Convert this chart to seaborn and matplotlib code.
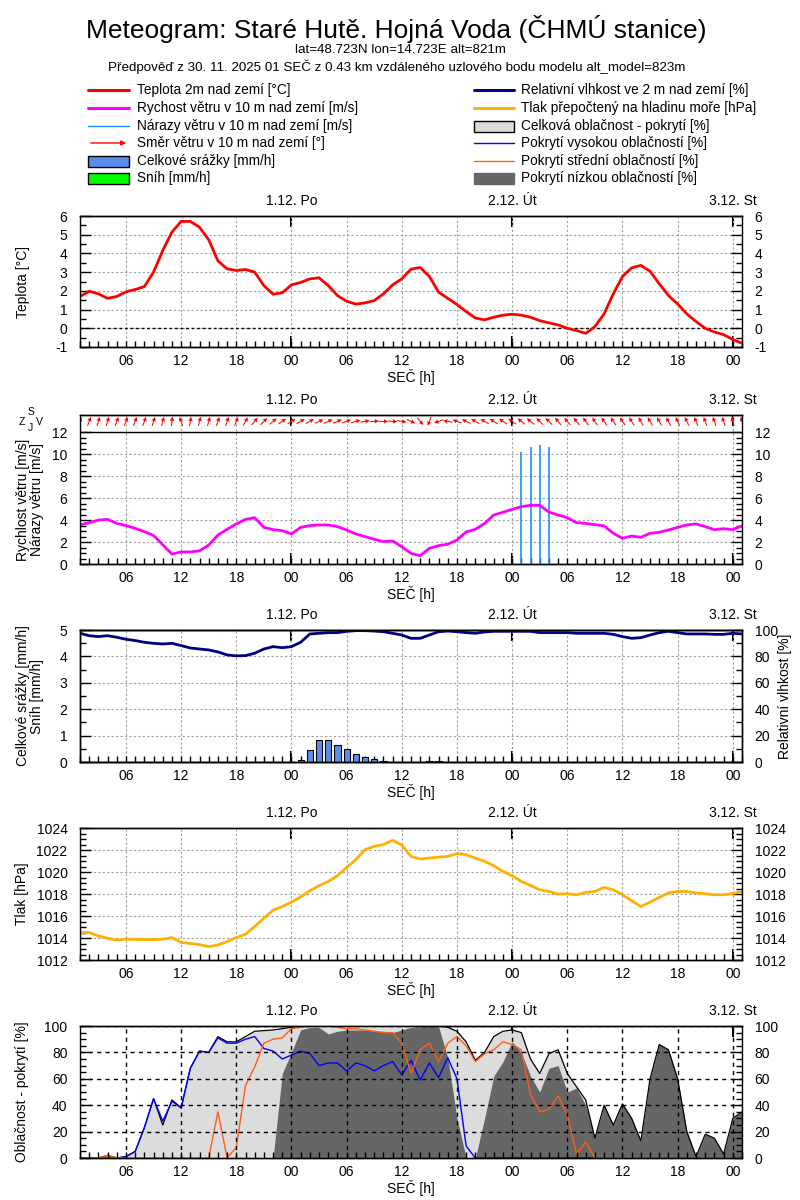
import numpy as np
import matplotlib
matplotlib.use("Agg")
import matplotlib.pyplot as plt
import matplotlib.ticker as mticker
from matplotlib.lines import Line2D
from matplotlib.patches import Rectangle, FancyArrowPatch
import seaborn as sns

# ---------------- data (hourly, h=0 is 30.11. 01:00 SEČ) ----------------
hours = list(range(73))

temperature = [1.7, 1.98, 1.84, 1.6, 1.7, 1.95, 2.07, 2.23, 3.0, 4.16,
               5.14, 5.71, 5.71, 5.4, 4.73, 3.6, 3.18, 3.09, 3.14, 3.0,
               2.28, 1.82, 1.9, 2.32, 2.45, 2.64, 2.7, 2.28, 1.75, 1.45,
               1.29, 1.36, 1.48, 1.84, 2.32, 2.64, 3.16, 3.25, 2.77, 1.93,
               1.6, 1.27, 0.89, 0.55, 0.45, 0.59, 0.7, 0.75, 0.7, 0.59,
               0.41, 0.29, 0.18, 0.0, -0.12, -0.27, 0.09, 0.77, 1.84, 2.77,
               3.23, 3.36, 3.05, 2.38, 1.75, 1.3, 0.77, 0.36, 0.0, -0.2,
               -0.34, -0.6, -0.8]

wind_speed = [3.56, 3.77, 4.0, 4.07, 3.7, 3.5, 3.25, 2.95, 2.6, 1.75,
              0.91, 1.1, 1.1, 1.2, 1.73, 2.64, 3.16, 3.65, 4.07, 4.22,
              3.34, 3.13, 3.04, 2.74, 3.34, 3.5, 3.56, 3.56, 3.4, 3.1,
              2.74, 2.5, 2.25, 2.04, 2.1, 1.58, 0.97, 0.76, 1.43, 1.67,
              1.8, 2.19, 2.92, 3.16, 3.7, 4.47, 4.71, 4.98, 5.23, 5.35,
              5.35, 4.74, 4.47, 4.22, 3.77, 3.7, 3.59, 3.47, 2.8, 2.34,
              2.55, 2.43, 2.8, 2.89, 3.1, 3.34, 3.56, 3.65, 3.4, 3.13,
              3.22, 3.13, 3.47]

nan = np.nan
wind_gust = [nan] * 48 + [10.2, 10.64, 10.85, 10.64] + [nan] * 21

# meteorological direction (wind blowing FROM), degrees
wind_dir = [200, 200, 198, 198, 200, 200, 202, 200, 198, 195,
            185, 160, 190, 195, 195, 198, 200, 202, 210, 220,
            225, 230, 235, 235, 240, 242, 245, 245, 248, 250,
            255, 260, 265, 270, 275, 280, 295, 320, 20, 70,
            100, 110, 115, 120, 120, 122, 125, 125, 128, 130,
            135, 135, 140, 140, 142, 145, 145, 145, 145, 145,
            148, 150, 150, 150, 152, 155, 155, 158, 160, 160,
            162, 165, 165]

precip = [0] * 24 + [0.08, 0.45, 0.83, 0.83, 0.64, 0.49, 0.3, 0.19, 0.11, 0.04,
                     0, 0, 0, 0, 0.02, 0.02] + [0] * 33
snow = [0] * 73

rel_hum = [97.5, 95.7, 95, 95.7, 94.5, 93, 92, 90.7, 89.9, 89.4,
           89.9, 88.2, 86.4, 85.6, 84.9, 83.4, 81.1, 80.4, 80.6, 82.4,
           85.6, 87.4, 86.6, 87.4, 90.7, 97, 97.5, 98, 98, 99,
           99.5, 99.5, 99.2, 98.7, 97.5, 96.2, 93.7, 93.7, 96.2, 98.7,
           99.2, 98.7, 98, 97.5, 98.5, 99, 99, 99, 99, 99,
           98, 98, 98, 98, 97.5, 97.5, 97.5, 97.5, 96.7, 95,
           93.7, 94.2, 96.2, 98, 99, 98, 97, 97, 97, 96.7,
           96.7, 97.5, 97]

pressure = [1014.49, 1014.5, 1014.19, 1013.98, 1013.8, 1013.9, 1013.88, 1013.85, 1013.85, 1013.9,
            1014.04, 1013.6, 1013.5, 1013.4, 1013.2, 1013.37, 1013.67, 1014.04, 1014.34, 1015.04,
            1015.8, 1016.53, 1016.86, 1017.26, 1017.74, 1018.3, 1018.75, 1019.14, 1019.66, 1020.42,
            1021.12, 1022.03, 1022.33, 1022.49, 1022.88, 1022.45, 1021.42, 1021.18, 1021.27, 1021.36,
            1021.42, 1021.67, 1021.57, 1021.27, 1020.97, 1020.57, 1020.05, 1019.66, 1019.14, 1018.78,
            1018.38, 1018.23, 1017.99, 1018.02, 1017.93, 1018.14, 1018.23, 1018.6, 1018.38, 1017.93,
            1017.38, 1016.86, 1017.26, 1017.68, 1018.1, 1018.23, 1018.23, 1018.1, 1018.02, 1017.93,
            1017.93, 1018.05, 1018.23]

cloud_total = [0, 0, 0, 2, 0, 1, 5, 23, 45, 25,
               44, 38, 68, 81, 80, 92, 88, 88, 92, 96,
               96.5, 97, 98, 99, 100, 100, 100, 100, 100, 100,
               100, 100, 100, 100, 100, 100, 100, 100, 100, 100,
               99, 96, 88, 74, 80, 92, 96, 97, 95, 75,
               64, 79, 82, 64, 54, 44, 15, 40, 25, 41,
               30, 13, 60, 86, 82, 60, 20, 1, 18, 15,
               3, 30, 35]

cloud_low = [0] * 22 + [64, 80, 97, 99, 99, 94, 96, 97,
                        97, 97, 96, 96, 95, 97, 99, 99.5, 100, 99.5,
                        76, 30, 0, 0, 30, 62, 73, 88, 80, 62,
                        50, 68, 70, 50, 53, 40, 15, 40, 25, 41,
                        30, 13, 60, 86, 82, 60, 20, 1, 18, 15,
                        3, 30, 35]

cloud_high = [0, 0, 0, 0, 0, 1, 5, 23, 45, 28,
              43, 38, 68, 81, 80, 91, 87, 87, 90, 92,
              83, 81, 75, 78, 81, 79, 70, 72, 72, 66,
              72, 70, 66, 70, 73, 63, 74, 59, 72, 61,
              76, 60, 9] + [0] * 30

cloud_mid = [0, 0, 0, 2] + [0] * 11 + [35, 0, 8, 55, 69,
             87, 90, 91, 98, 99, 100, 100, 100, 99, 98,
             98, 97, 96, 95, 95, 87, 64, 82, 87, 73,
             87, 92, 85, 73, 79, 82, 88, 86, 82, 48,
             35, 37, 47, 33, 3, 12] + [0] * 17

hour_tick_pos = list(range(5, 73, 6))
hour_tick_lab = ["06", "12", "18", "00"] * 3
day_pos = [23, 47, 71]
day_lab = ["1.12. Po", "2.12. Út", "3.12. St"]

title = "Meteogram: Staré Hutě. Hojná Voda (ČHMÚ stanice)"
sub1 = "lat=48.723N lon=14.723E alt=821m"
sub2 = "Předpověď z 30. 11. 2025 01 SEČ z 0.43 km vzdáleného uzlového bodu modelu alt_model=823m"

# ---------------- style ----------------
sns.set_style("white")
plt.rcParams["font.family"] = ["Liberation Sans", "DejaVu Sans"]
plt.rcParams["axes.edgecolor"] = "black"
plt.rcParams["axes.linewidth"] = 1.0
plt.rcParams["axes.unicode_minus"] = False
plt.rcParams["xtick.color"] = "black"
plt.rcParams["ytick.color"] = "black"
plt.rcParams["text.color"] = "black"
plt.rcParams["axes.labelcolor"] = "black"
NARROW = ["Liberation Sans Narrow", "Liberation Sans", "DejaVu Sans"]

FS = 10
fig = plt.figure(figsize=(8, 12), dpi=100)


def make_axes(top, bottom):
    return fig.add_axes([80 / 800, 1 - bottom / 1200, 662 / 800, (bottom - top) / 1200])


def style_time(ax, gcolor="#a0a0a0", gls=(0, (2, 2)), glw=0.8):
    ax.set_xlim(0, 72)
    ax.set_xticks(hour_tick_pos)
    ax.set_xticklabels(hour_tick_lab)
    ax.xaxis.set_minor_locator(mticker.MultipleLocator(1))
    ax.tick_params(axis="x", which="both", direction="in", length=4, width=1,
                   top=False, bottom=True, pad=5, labelsize=FS)
    ax.grid(True, which="major", color=gcolor, linestyle=gls, linewidth=glw)
    ax.set_xlabel("SEČ [h]", fontsize=FS, labelpad=0.5)
    sec_top = ax.secondary_xaxis("top")
    sec_top.set_xticks(day_pos)
    sec_top.set_xticklabels(day_lab)
    sec_top.tick_params(direction="in", length=8, width=1.5, pad=6, labelsize=FS)
    sec_bot = ax.secondary_xaxis("bottom")
    sec_bot.set_xticks(day_pos)
    sec_bot.set_xticklabels([])
    sec_bot.tick_params(direction="in", length=8, width=1.5)


def style_y(ax, lo, hi, major, minor, left=True, right=True, major_list=None, minor_list=None):
    ax.set_ylim(lo, hi)
    if major_list is not None:
        ax.yaxis.set_major_locator(mticker.FixedLocator(major_list))
        ax.yaxis.set_minor_locator(mticker.FixedLocator(minor_list))
    else:
        ax.yaxis.set_major_locator(mticker.MultipleLocator(major))
        ax.yaxis.set_minor_locator(mticker.MultipleLocator(minor))
    ax.tick_params(axis="y", which="major", direction="in", length=8, width=1,
                   left=left, right=right, labelleft=left, labelright=right,
                   pad=9, labelsize=FS)
    ax.tick_params(axis="y", which="minor", direction="in", length=4, width=1,
                   left=left, right=right)


# ---------------- panel 1: temperature ----------------
ax1 = make_axes(216, 347)
ax1.axhline(0, color="black", lw=1, ls=(0, (2, 2)), zorder=1.5)
sns.lineplot(x=hours, y=temperature, ax=ax1, color="#ff0000", lw=2)
style_time(ax1)
style_y(ax1, -1, 6, 1, 0.5)
ax1.set_ylabel("Teplota [°C]", fontsize=FS)
ax1.yaxis.set_label_coords(-0.075, 0.5)

# ---------------- panel 2: wind ----------------
ax2 = make_axes(415, 564)
ax2.vlines(hours, 0, wind_gust, color="#1e90ff", lw=1.2)
sns.lineplot(x=hours, y=wind_speed, ax=ax2, color="#ff00ff", lw=2)
ax2.axhline(12, color="black", lw=1)
toward = np.deg2rad((np.array(wind_dir) + 180) % 360)
ax2.quiver(hours, [13.0] * len(hours), np.sin(toward), np.cos(toward),
           color="#ff0000", angles="uv", pivot="middle", scale_units="inches",
           scale=1 / 0.095, units="dots", width=1.0, headwidth=4.5,
           headlength=4.5, headaxislength=4, zorder=3)
style_time(ax2)
style_y(ax2, 0, 13.58, None, None, major_list=list(range(0, 13, 2)),
        minor_list=list(np.arange(0, 12.01, 0.5)))
ax2.set_ylabel("Rychlost větru [m/s]\nNárazy větru [m/s]", fontsize=FS, linespacing=1.05)
ax2.yaxis.set_label_coords(-0.054, 0.43)
fig.text(31 / 800, 1 - 412 / 1200, "S", fontsize=7.5, ha="center", va="center")
fig.text(22 / 800, 1 - 422 / 1200, "Z", fontsize=7.5, ha="center", va="center")
fig.text(39 / 800, 1 - 422 / 1200, "V", fontsize=7.5, ha="center", va="center")
fig.text(30 / 800, 1 - 428 / 1200, "J", fontsize=7.5, ha="center", va="center")

# ---------------- panel 3: precipitation + humidity ----------------
ax3 = make_axes(630, 762)
ax3.bar(hours, precip, width=0.68, color="#5b8def", edgecolor="black", linewidth=0.8, zorder=2)
ax3.bar(hours, snow, width=0.68, color="#00ff00", edgecolor="black", linewidth=0.0, zorder=2)
style_time(ax3)
style_y(ax3, 0, 5, 1, 0.5, left=True, right=False)
ax3.set_ylabel("Celkové srážky [mm/h]\nSníh [mm/h]", fontsize=FS, linespacing=1.05)
ax3.yaxis.set_label_coords(-0.054, 0.5)
ax3r = ax3.twinx()
sns.lineplot(x=hours, y=rel_hum, ax=ax3r, color="#000080", lw=2)
ax3r.set_xlim(0, 72)
style_y(ax3r, 0, 100, 20, 10, left=False, right=True)
ax3r.set_ylabel("Relativní vlhkost [%]", fontsize=FS)
ax3r.yaxis.set_label_coords(1.054, 0.5)
ax3r.grid(False)

# ---------------- panel 4: pressure ----------------
ax4 = make_axes(828, 960)
sns.lineplot(x=hours, y=pressure, ax=ax4, color="#ffb000", lw=2)
style_time(ax4)
style_y(ax4, 1012, 1024, 2, 0.5)
ax4.set_ylabel("Tlak [hPa]", fontsize=FS)
ax4.yaxis.set_label_coords(-0.077, 0.5)

# ---------------- panel 5: clouds ----------------
ax5 = make_axes(1026, 1158)
ax5.fill_between(hours, 0, cloud_total, color="#dcdcdc", lw=0, zorder=1)
ax5.fill_between(hours, 0, cloud_low, color="#666666", lw=0, zorder=1.2)
sns.lineplot(x=hours, y=cloud_total, ax=ax5, color="black", lw=0.9)
sns.lineplot(x=hours, y=cloud_high, ax=ax5, color="#0000ff", lw=1.0)
sns.lineplot(x=hours, y=cloud_mid, ax=ax5, color="#ff5e14", lw=1.0)
style_time(ax5, gcolor="black", gls=(0, (3, 3)), glw=1.0)
ax5.set_axisbelow(False)
style_y(ax5, 0, 100, 20, 5)
ax5.set_ylabel("Oblačnost - pokrytí [%]", fontsize=FS)
ax5.yaxis.set_label_coords(-0.077, 0.5)

for a in (ax1, ax2, ax3, ax3r, ax4, ax5):
    for s in a.spines.values():
        s.set_color("black")
        s.set_linewidth(1)
        s.set_zorder(5)

# ---------------- header ----------------
fig.text(396 / 800, 1 - 29 / 1200, title, ha="center", va="center", fontsize=19, family=NARROW)
fig.text(400 / 800, 1 - 50 / 1200, sub1, ha="center", va="center", fontsize=9.6, family=NARROW)
fig.text(397 / 800, 1 - 67 / 1200, sub2, ha="center", va="center", fontsize=9.6, family=NARROW)

# ---------------- legend ----------------
rows = [90, 108, 126, 143, 161, 178]
left_items = [
    ("line", "#ff0000", 2.2, "Teplota 2m nad zemí [°C]"),
    ("line", "#ff00ff", 2.2, "Rychost větru v 10 m nad zemí [m/s]"),
    ("line", "#1e90ff", 1.0, "Nárazy větru v 10 m nad zemí [m/s]"),
    ("arrow", "#ff0000", 1.0, "Směr větru v 10 m nad zemí [°]"),
    ("rect", "#5b8def", 1.0, "Celkové srážky [mm/h]"),
    ("rect", "#00ff00", 1.0, "Sníh [mm/h]"),
]
right_items = [
    ("line", "#000080", 2.2, "Relativní vlhkost ve 2 m nad zemí [%]"),
    ("line", "#ffb000", 2.2, "Tlak přepočtený na hladinu moře [hPa]"),
    ("rect", "#dcdcdc", 1.0, "Celková oblačnost - pokrytí [%]"),
    ("line", "#0000ff", 1.0, "Pokrytí vysokou oblačností [%]"),
    ("line", "#ff5e14", 1.0, "Pokrytí střední oblačností [%]"),
    ("rectne", "#666666", 1.0, "Pokrytí nízkou oblačností [%]"),
]


def draw_legend(items, x0, x1, xt):
    for (kind, col, lw, txt), y in zip(items, rows):
        fy = 1 - y / 1200
        if kind == "line":
            fig.add_artist(Line2D([x0 / 800, x1 / 800], [fy, fy], color=col, lw=lw,
                                  transform=fig.transFigure))
        elif kind == "arrow":
            fig.add_artist(FancyArrowPatch((x0 / 800, fy), (x1 / 800, fy), transform=fig.transFigure,
                                           arrowstyle="-|>", mutation_scale=7, color=col, lw=1))
        else:
            fig.add_artist(Rectangle((x0 / 800, fy - 5.5 / 1200), (x1 - x0) / 800, 11 / 1200,
                                     facecolor=col,
                                     edgecolor="black" if kind == "rect" else col,
                                     lw=1, transform=fig.transFigure))
        fig.text(xt / 800, fy, txt, ha="left", va="center", fontsize=9.8, family=NARROW)


draw_legend(left_items, 88, 129, 137)
draw_legend(right_items, 474, 514, 521)

fig.savefig("out.png", dpi=100)
